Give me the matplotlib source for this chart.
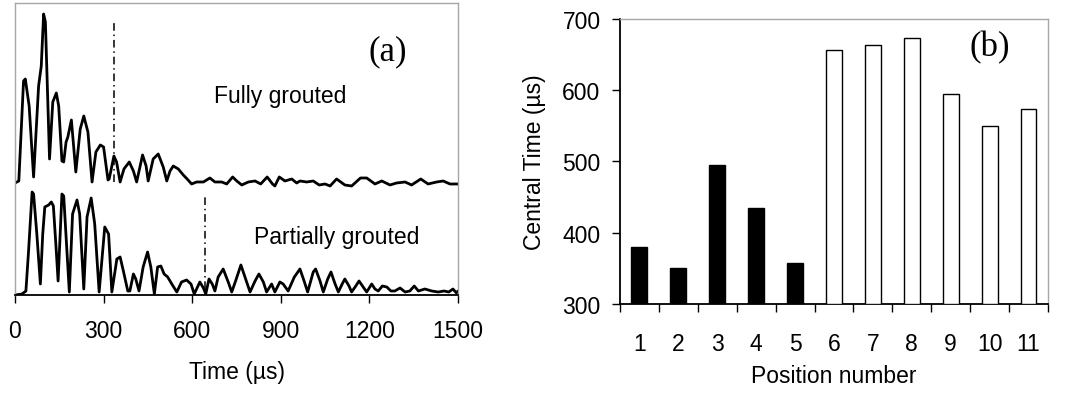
import matplotlib
matplotlib.use("Agg")
import matplotlib.pyplot as plt
import numpy as np

plt.rcParams['font.family'] = ['Liberation Sans', 'DejaVu Sans']

# ── data ─────────────────────────────────────────────────────────────────────
# (a) received signals, time in µs, amplitude in arbitrary units
full_t = [0, 13, 29, 35, 48, 63, 80, 89, 97, 103, 117, 128, 140, 148, 159, 165,
          173, 179, 191, 206, 221, 233, 247, 261, 274, 289, 300, 315, 319, 335,
          344, 356, 369, 387, 401, 412, 432, 444, 451, 468, 485, 502, 514, 525,
          536, 553, 570, 583, 598, 615, 638, 660, 677, 700, 717, 737, 751, 768,
          790, 813, 832, 854, 872, 880, 895, 914, 937, 954, 965, 988, 1010, 1030,
          1050, 1067, 1089, 1117, 1140, 1170, 1191, 1219, 1242, 1270, 1292, 1321,
          1343, 1374, 1399, 1428, 1450, 1473, 1500]
full_a = [0, 2, 102, 104, 77, 6, 97, 117, 169, 161, 24, 81, 90, 77, 22, 21,
          41, 46, 63, 11, 54, 67, 51, 1, 31, 38, 36, 3, 4, 27,
          21, 1, 14, 21, 12, 1, 28, 17, 2, 24, 29, 16, 2, 12,
          17, 14, 8, 4, -1, 1, 1, 5, 1, 1, -1, 6, 2, -2,
          1, 2, -1, 6, -1, -3, 6, 2, 4, 0, 2, 1, 2, -2,
          -1, -3, 4, -2, -3, 5, 5, -1, 2, -2, 0, 1,
          -2, 4, -1, 1, 2, -1, -1]

part_t = [0, 24, 37, 46, 58, 63, 74, 86, 94, 101, 114, 123, 130, 139, 146, 159,
          165, 184, 195, 210, 219, 233, 244, 258, 270, 285, 304, 317, 328, 345,
          356, 367, 382, 389, 401, 409, 420, 434, 449, 460, 472, 483, 494, 505,
          517, 531, 548, 564, 581, 596, 607, 626, 638, 646, 657, 668, 677, 688,
          705, 722, 734, 747, 765, 781, 796, 813, 826, 841, 852, 869, 880, 897,
          908, 925, 946, 965, 979, 991, 1010, 1018, 1033, 1044, 1059, 1070, 1084,
          1095, 1108, 1117, 1131, 1140, 1154, 1165, 1179, 1191, 1208, 1219, 1230,
          1244, 1259, 1273, 1286, 1304, 1321, 1337, 1352, 1366, 1388, 1411, 1433,
          1453, 1469, 1483, 1495, 1500]
part_a = [0, 1, 4, 44, 103, 101, 61, 11, 61, 88, 90, 93, 89, 48, 14, 101,
          99, 3, 81, 95, 81, 6, 78, 97, 71, 3, 68, 61, 3, 36,
          38, 24, 4, 4, 21, 16, 4, 28, 43, 28, 1, 28, 29, 21,
          18, 11, 3, 13, 15, 11, 1, 13, 7, 1, 16, 11, 4, 18,
          26, 13, 3, 14, 30, 16, 3, 14, 21, 13, 3, 11, 3, 13,
          11, 4, 18, 26, 14, 3, 23, 26, 14, 3, 16, 23, 11,
          3, 11, 16, 9, 3, 9, 14, 8, 3, 11, 6, 4,
          9, 8, 4, 4, 7, 3, 4, 9, 4, 6, 4, 3,
          4, 3, 6, 2, 4]

full_central = 336    # µs, dash-dot marker
part_central = 643

# (b) central time per position
positions = list(range(1, 12))
central_time = [380, 350, 495, 435, 358, 656, 663, 673, 595, 550, 574]
n_partial = 5   # first five positions are partially grouted (black bars)
# ─────────────────────────────────────────────────────────────────────────────

fig = plt.figure(figsize=(10.70, 4.02), dpi=100)
frame_grey = '#a6a6a6'

# ── (a) waveforms ────────────────────────────────────────────────────────────
ax = fig.add_axes([0.014, 0.2637, 0.414, 0.7264])
offset = 112
ax.plot(full_t, np.array(full_a) + offset, color='k', lw=2.0,
        solid_joinstyle='round', solid_capstyle='round')
ax.plot(part_t, part_a, color='k', lw=2.0,
        solid_joinstyle='round', solid_capstyle='round')
ax.plot([full_central, full_central], [offset + 1, offset + 162], color='k', lw=1.1,
        linestyle=(0, (5, 2.5, 1, 2.5)))
ax.plot([part_central, part_central], [6, 99], color='k', lw=1.1,
        linestyle=(0, (5, 2.5, 1, 2.5)))
ax.set_xlim(0, 1500)
ax.set_ylim(0, 292)
ax.set_xticks([0, 300, 600, 900, 1200, 1500])
ax.set_yticks([])
for s in ['top', 'left', 'right']:
    ax.spines[s].set_color(frame_grey)
    ax.spines[s].set_linewidth(1.0)
ax.spines['bottom'].set_linewidth(1.3)
ax.tick_params(axis='x', direction='out', length=5.5, width=1.0, pad=12, labelsize=16.5)
ax.set_xlabel('Time (µs)', fontsize=16.5)
ax.xaxis.set_label_coords(0.501, -0.222)
ax.text(0.598, 0.682, 'Fully grouted', transform=ax.transAxes, ha='center', va='center', fontsize=16.5)
ax.text(0.727, 0.202, 'Partially grouted', transform=ax.transAxes, ha='center', va='center', fontsize=16.5)
ax.text(0.842, 0.836, '(a)', transform=ax.transAxes, ha='center', va='center', fontsize=25,
        family=['Liberation Serif', 'DejaVu Serif'])

# ── (b) bars ─────────────────────────────────────────────────────────────────
bx = fig.add_axes([0.5794, 0.2413, 0.400, 0.709])
colors = ['k' if i < n_partial else 'white' for i in range(len(positions))]
bx.bar(positions, np.array(central_time) - 300, bottom=300, width=0.41,
       color=colors, edgecolor='k', linewidth=1.0, zorder=3)
bx.set_xlim(0.5, 11.5)
bx.set_ylim(300, 700)
bx.set_yticks([300, 400, 500, 600, 700])
bx.set_xticks(np.arange(0.5, 12, 1.0))
bx.set_xticklabels([])
bx.set_xticks(positions, minor=True)
bx.set_xticklabels([str(p) for p in positions], minor=True)
bx.tick_params(axis='x', which='major', direction='out', length=6, width=1.0)
bx.tick_params(axis='x', which='minor', length=0, pad=20, labelsize=16.5)
bx.tick_params(axis='y', direction='out', length=6, width=1.0, pad=8, labelsize=16.5)
for s in ['top', 'right']:
    bx.spines[s].set_color(frame_grey)
    bx.spines[s].set_linewidth(1.0)
bx.spines['left'].set_linewidth(1.3)
bx.spines['bottom'].set_linewidth(1.3)
bx.set_xlabel('Position number', fontsize=16.5)
bx.xaxis.set_label_coords(0.5, -0.21)
bx.set_ylabel('Central Time (µs)', fontsize=16.5)
bx.yaxis.set_label_coords(-0.172, 0.5)
bx.text(0.864, 0.902, '(b)', transform=bx.transAxes, ha='center', va='center', fontsize=25,
        family=['Liberation Serif', 'DejaVu Serif'])

fig.savefig('out.png', dpi=100)
